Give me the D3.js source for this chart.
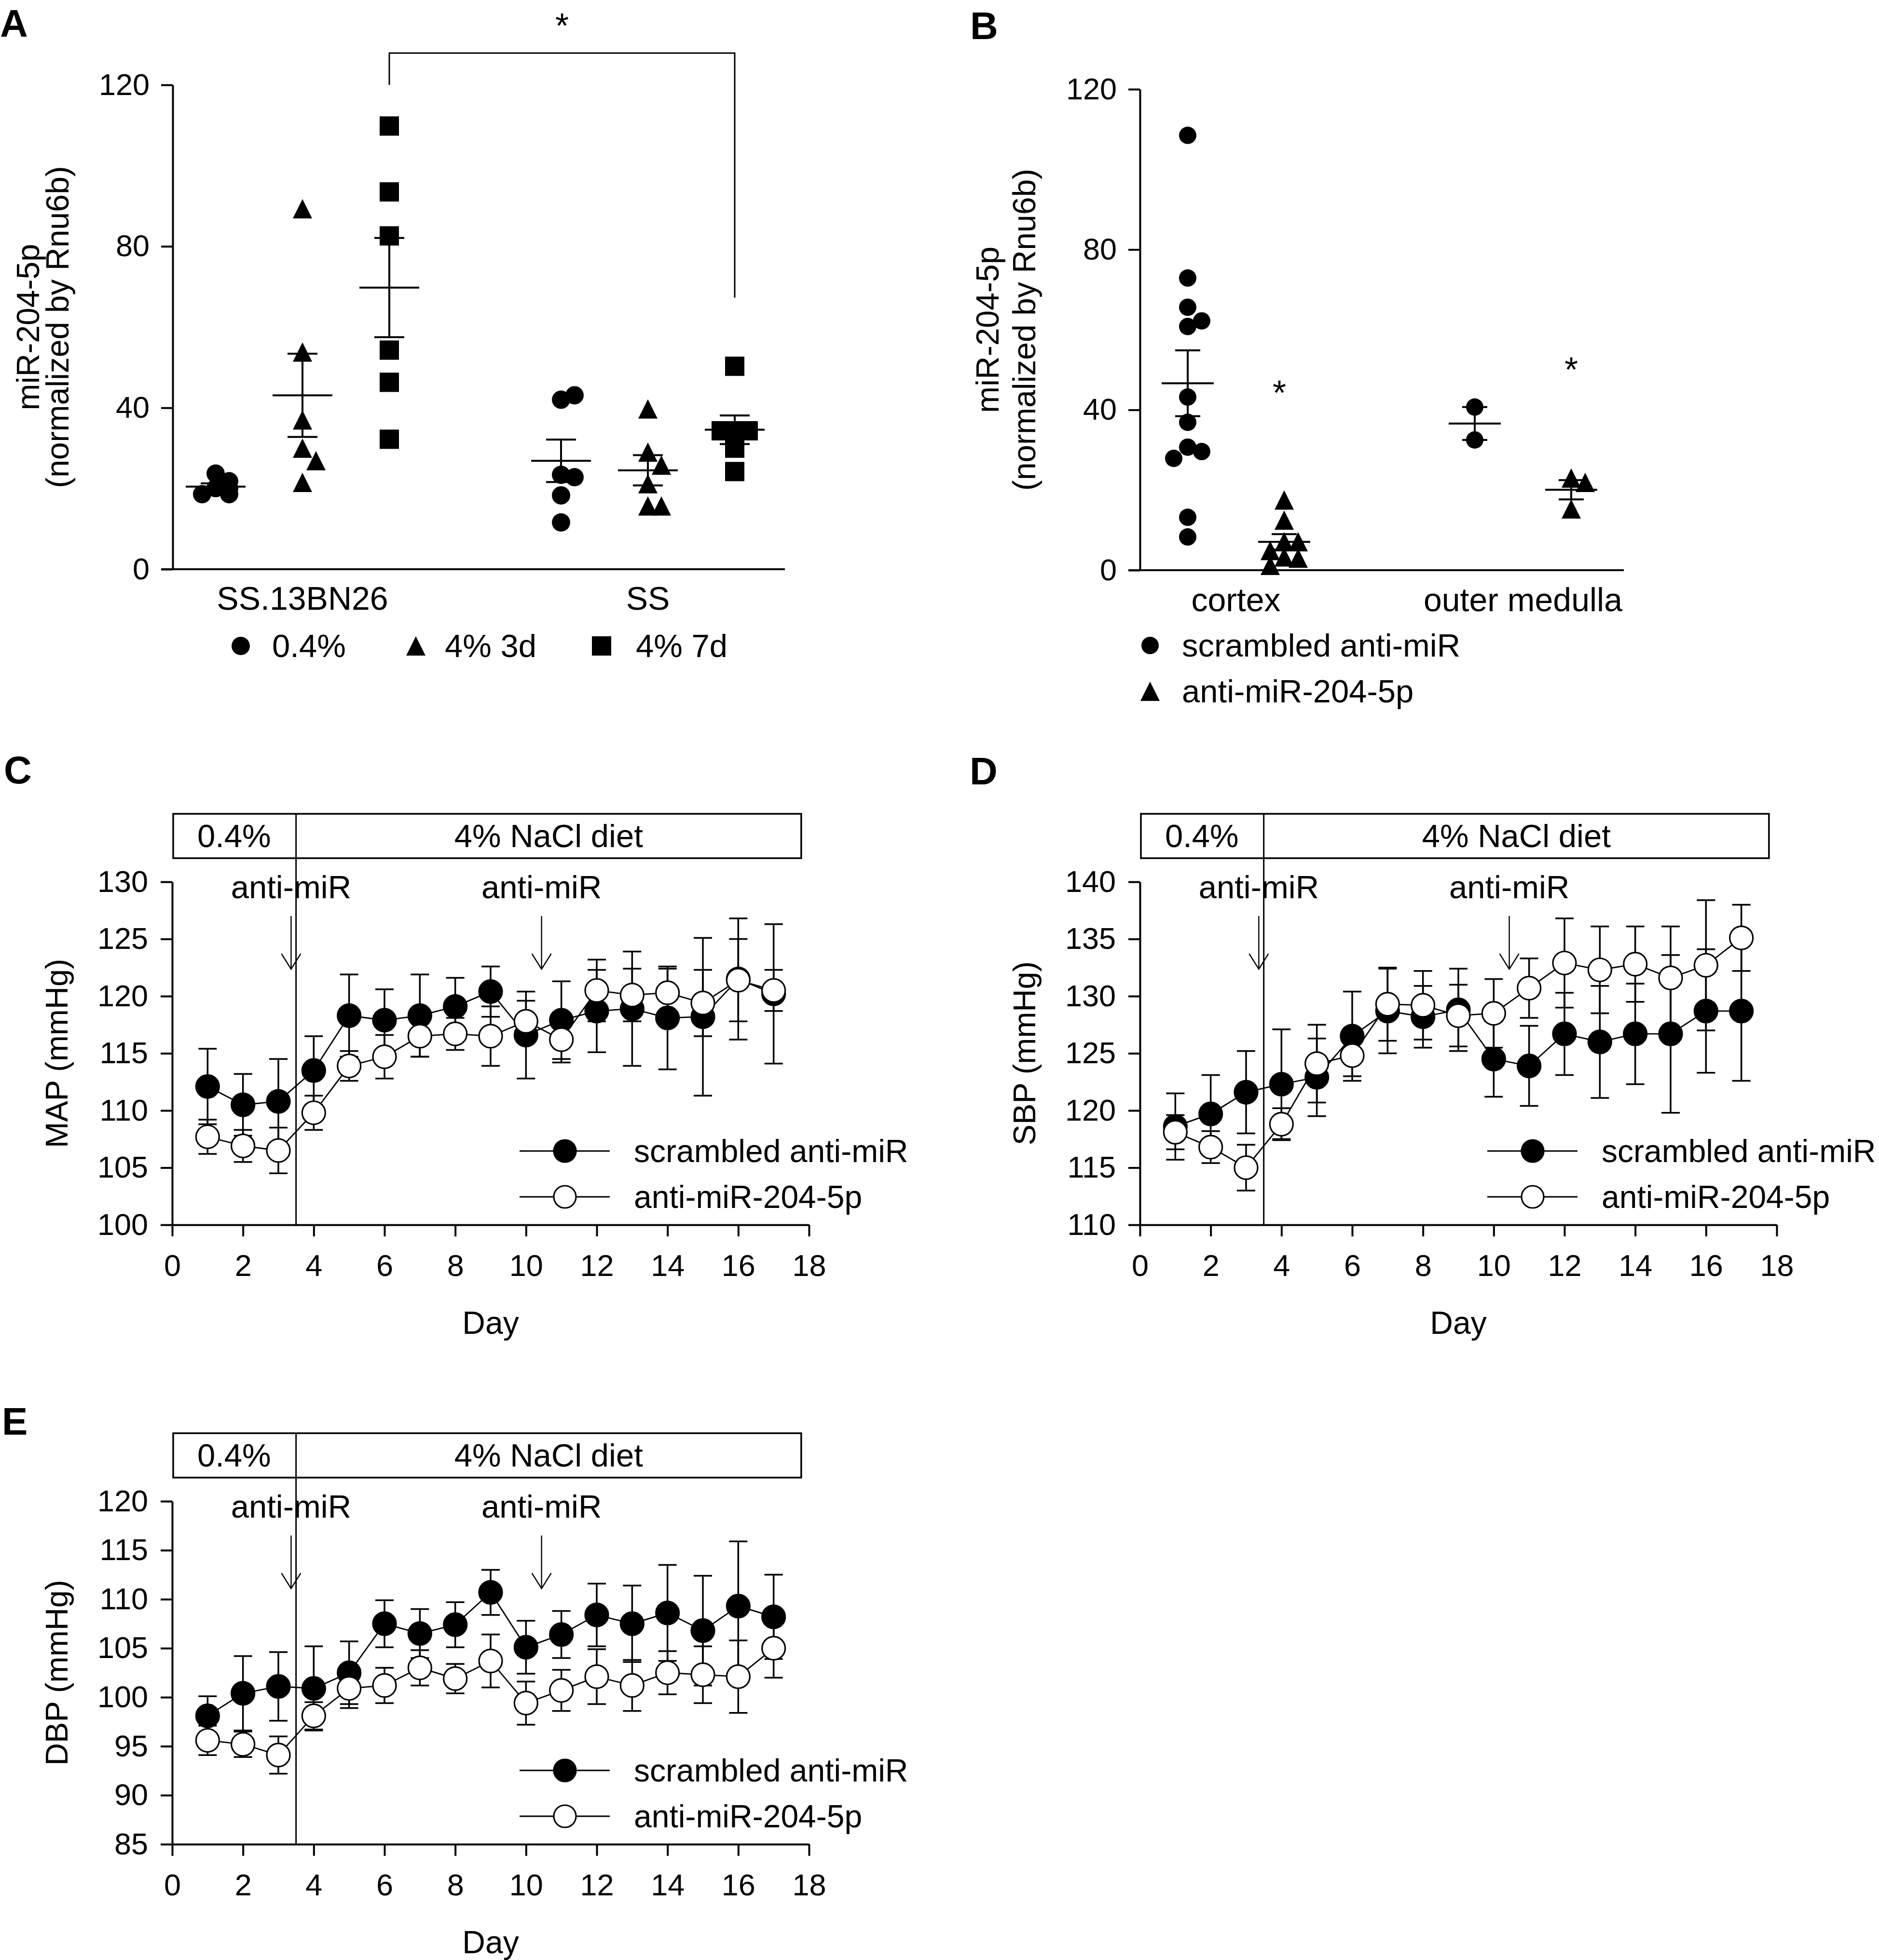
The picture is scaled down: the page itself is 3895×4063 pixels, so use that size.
<!DOCTYPE html>
<html>
<head>
<meta charset="utf-8">
<script src="https://cdn.jsdelivr.net/npm/d3@7"></script>
<style>
  body { margin: 0; background: #fff; }
  text { font-family: "Liberation Sans", Arial, Helvetica, sans-serif; fill: #000; }
</style>
</head>
<body>
<svg id="fig" width="3895" height="4063"></svg>
<script>
const FONT = '"Liberation Sans", Arial, Helvetica, sans-serif';

// ---- panel A : miR-204-5p by strain / diet
const aCategories = ["SS.13BN26", "SS"];
const aGroups = ["0.4%", "4% 3d", "4% 7d"];
const aTicks = [0, 40, 80, 120];
const aSSBN_04 = [20.1, 21.8, 23.7, 18.6, 18.6, 20.0];
const aSSBN_3d = [89.3, 53.8, 37.0, 30.0, 26.9, 21.5];
const aSSBN_7d = [109.8, 93.5, 82.6, 54.3, 46.3, 32.2];
const aSS_04 = [42.0, 43.1, 23.4, 22.8, 18.3, 11.6];
const aSS_3d = [39.7, 29.0, 25.8, 21.2, 15.7, 15.7];
const aSS_7d = [50.3, 34.3, 34.3, 34.3, 30.0, 24.2];

// ---- panel B : cortex / outer medulla
const bCategories = ["cortex", "outer medulla"];
const bGroups = ["scrambled anti-miR", "anti-miR-204-5p"];
const bTicks = [0, 40, 80, 120];
const bCortexScr = [108.5, 72.9, 65.6, 62.2, 60.8, 43.2, 36.9, 30.7, 29.6, 27.9, 13.2, 8.3];
const bCortexAnti = [17.5, 12.5, 7.1, 7.1, 4.9, 3.3, 3.0, 1.2];
const bMedullaScr = [40.7, 32.5];
const bMedullaAnti = [23.0, 21.9, 15.3];

// ---- panels C-E : telemetry by day
const days = [1, 2, 3, 4, 5, 6, 7, 8, 9, 10, 11, 12, 13, 14, 15, 16, 17];
const dayTicks = [0, 2, 4, 6, 8, 10, 12, 14, 16, 18];
const injectionDays = [3.36, 10.44];
const dietPhases = [
  { label: "0.4%", from: 0, to: 3.5 },
  { label: "4% NaCl diet", from: 3.5, to: 17.78 }
];
const seriesNames = ["scrambled anti-miR", "anti-miR-204-5p"];

const mapTicks = [100, 105, 110, 115, 120, 125, 130];
const mapScr = [112.1, 110.5, 110.8, 113.5, 118.3, 117.9, 118.3, 119.1, 120.4, 116.6, 117.9, 118.7, 118.9, 118.1, 118.2, 121.5, 120.2];
const mapScrSem = [3.3, 2.7, 3.7, 3.0, 3.6, 2.7, 3.6, 2.5, 2.2, 3.8, 3.4, 3.6, 5.0, 4.5, 6.9, 5.3, 6.1];
const mapAnti = [107.7, 106.9, 106.5, 109.8, 113.9, 114.7, 116.5, 116.7, 116.5, 117.8, 116.2, 120.5, 120.1, 120.3, 119.4, 121.4, 120.5];
const mapAntiSem = [1.5, 1.4, 2.0, 1.5, 1.3, 1.9, 1.8, 1.4, 2.6, 1.8, 2.0, 2.7, 2.3, 2.1, 2.9, 3.6, 1.8];

const sbpTicks = [110, 115, 120, 125, 130, 135, 140];
const sbpScr = [118.6, 119.7, 121.6, 122.3, 122.9, 126.5, 128.7, 128.2, 128.8, 124.5, 123.9, 126.7, 126.0, 126.7, 126.7, 128.7, 128.7];
const sbpScrSem = [2.9, 3.4, 3.6, 4.8, 3.4, 3.9, 3.7, 2.7, 3.6, 3.3, 3.5, 3.6, 4.9, 4.4, 6.9, 5.4, 6.1];
const sbpAnti = [118.1, 116.8, 115.0, 118.8, 124.1, 124.8, 129.3, 129.2, 128.3, 128.5, 130.7, 132.9, 132.3, 132.8, 131.6, 132.7, 135.1];
const sbpAntiSem = [1.5, 1.4, 2.0, 1.4, 3.4, 1.8, 3.2, 3.0, 2.7, 3.0, 2.6, 3.9, 3.8, 3.3, 4.5, 5.7, 2.9];

const dbpTicks = [85, 90, 95, 100, 105, 110, 115, 120];
const dbpScr = [98.1, 100.4, 101.1, 100.9, 102.5, 107.5, 106.5, 107.4, 110.7, 105.1, 106.4, 108.4, 107.5, 108.6, 106.8, 109.3, 108.2];
const dbpScrSem = [2.0, 3.8, 3.5, 4.3, 3.2, 2.4, 2.5, 2.3, 2.3, 2.7, 2.4, 3.2, 3.9, 4.9, 5.6, 6.6, 4.3];
const dbpAnti = [95.6, 95.2, 94.1, 98.1, 100.9, 101.2, 103.0, 101.9, 103.7, 99.4, 100.7, 102.1, 101.2, 102.5, 102.3, 102.1, 105.0];
const dbpAntiSem = [1.5, 1.3, 1.9, 1.4, 2.0, 1.8, 1.8, 1.5, 2.7, 2.2, 2.1, 2.8, 2.6, 2.2, 2.9, 3.7, 3.0];

const svg = d3.select("#fig");
svg.append("rect").attr("width", 3895).attr("height", 4063).attr("fill", "#fff");

// triangle marker, centred on its box
const symTriangle = {
  draw(ctx, size) {
    const h = Math.sqrt(size) / 2;
    ctx.moveTo(0, -h);
    ctx.lineTo(h, h);
    ctx.lineTo(-h, h);
    ctx.closePath();
  }
};

function styleAxis(g, fs) {
  g.attr("font-size", fs).attr("font-family", FONT);
  g.select(".domain").attr("stroke-width", 4);
  g.selectAll(".tick line").attr("stroke-width", 4);
  g.selectAll(".tick text").attr("fill", "#000");
}

function panelLetter(letter, x, y) {
  svg.append("text").attr("x", x).attr("y", y)
    .attr("font-size", 80).attr("font-weight", "bold").text(letter);
}

// column swarm in three columns, overlapping when they are all taken
function swarm(vals, y, step, minGap) {
  const placed = [];
  return vals.map(v => {
    const py = y(v);
    let best = 0, bestGap = -1;
    for (const k of [0, 1, -1]) {
      const near = placed.filter(p => p.k === k).map(p => Math.abs(p.py - py));
      const gap = near.length ? d3.min(near) : Infinity;
      if (gap >= minGap) { best = k; bestGap = gap; break; }
      if (gap > bestGap) { best = k; bestGap = gap; }
    }
    placed.push({ k: best, py });
    return { v, py, dx: best * step };
  });
}

function scatterPanel(o) {
  const g = svg.append("g");
  const y = d3.scaleLinear().domain([0, 120]).range([o.yBot, o.yTop]);
  const xc = d3.scalePoint().domain(o.cats).range(o.catRange);
  const xo = d3.scalePoint().domain(o.groups).range(o.offRange);

  g.append("g").attr("transform", `translate(${o.axisX},0)`)
    .call(d3.axisLeft(y).tickValues(o.ticks).tickSize(24).tickPadding(24).tickSizeOuter(0))
    .call(styleAxis, 63);
  g.append("line").attr("x1", o.axisX - 24).attr("x2", o.axisEnd)
    .attr("y1", y(0)).attr("y2", y(0)).attr("stroke", "#000").attr("stroke-width", 4);

  g.selectAll("text.cat").data(o.cats).enter().append("text")
    .attr("x", d => xc(d)).attr("y", o.catY)
    .attr("text-anchor", "middle").attr("font-size", 68).text(d => d);

  o.series.forEach(s => {
    const cx = xc(s.cat) + xo(s.grp);
    const gi = o.groups.indexOf(s.grp);
    const sym = d3.symbol().type(o.shapes[gi]).size(o.sizes[gi]);
    const pts = swarm(s.vals, y, o.step, o.minGap);
    g.selectAll(null).data(pts).enter().append("path")
      .attr("d", sym)
      .attr("transform", d => `translate(${cx + d.dx},${d.py})`)
      .attr("fill", "#000");

    const m = d3.mean(s.vals);
    const se = d3.deviation(s.vals) / Math.sqrt(s.vals.length);
    const lg = g.append("g").attr("stroke", "#000").attr("stroke-width", 4);
    lg.append("line").attr("x1", cx - o.meanHalf).attr("x2", cx + o.meanHalf)
      .attr("y1", y(m)).attr("y2", y(m));
    lg.append("line").attr("x1", cx).attr("x2", cx)
      .attr("y1", y(m - se)).attr("y2", y(m + se));
    [m - se, m + se].forEach(v => {
      lg.append("line").attr("x1", cx - o.capHalf).attr("x2", cx + o.capHalf)
        .attr("y1", y(v)).attr("y2", y(v));
    });
  });

  // y title, two lines
  o.yTitle.forEach((t, i) => {
    g.append("text")
      .attr("transform", `translate(${o.yTitleX[i]},${(o.yTop + o.yBot) / 2}) rotate(-90)`)
      .attr("text-anchor", "middle").attr("dy", "0.35em")
      .attr("font-size", 66).text(t);
  });

  // legend
  o.groups.forEach((grp, i) => {
    const sym = d3.symbol().type(o.shapes[i]).size(o.sizes[i]);
    const p = o.legend[i];
    g.append("path").attr("d", sym).attr("transform", `translate(${p.sx},${p.y})`).attr("fill", "#000");
    g.append("text").attr("x", p.tx).attr("y", p.y).attr("dy", "0.35em")
      .attr("font-size", 67).text(grp);
  });

  return { g, y, gx: (cat, grp) => xc(cat) + xo(grp) };
}

function star(g, x, yc) {
  g.append("text").attr("x", x).attr("y", yc + 40)
    .attr("text-anchor", "middle").attr("font-size", 72).text("*");
}

// ---------------- Panel A
panelLetter("A", 0, 76);
const pA = scatterPanel({
  cats: aCategories, groups: aGroups, ticks: aTicks,
  yTop: 176, yBot: 1180, axisX: 358, axisEnd: 1627,
  catRange: [627, 1343], offRange: [-180, 180], catY: 1264,
  shapes: [d3.symbolCircle, symTriangle, d3.symbolSquare],
  sizes: [Math.PI * 19 * 19, 40 * 40, 40 * 40],
  step: 28, minGap: 30, meanHalf: 62, capHalf: 31,
  series: [
    { cat: "SS.13BN26", grp: "0.4%", vals: aSSBN_04 },
    { cat: "SS.13BN26", grp: "4% 3d", vals: aSSBN_3d },
    { cat: "SS.13BN26", grp: "4% 7d", vals: aSSBN_7d },
    { cat: "SS", grp: "0.4%", vals: aSS_04 },
    { cat: "SS", grp: "4% 3d", vals: aSS_3d },
    { cat: "SS", grp: "4% 7d", vals: aSS_7d }
  ],
  yTitle: ["miR-204-5p", "(normalized by Rnu6b)"], yTitleX: [58, 119],
  legend: [{ sx: 499, tx: 564, y: 1339 }, { sx: 862, tx: 922, y: 1339 }, { sx: 1247, tx: 1318, y: 1339 }]
});
{
  const xl = pA.gx("SS.13BN26", "4% 7d"), xr = pA.gx("SS", "4% 7d");
  pA.g.append("path")
    .attr("d", `M${xl},${pA.y(120)}V${pA.y(127.9)}H${xr}V${pA.y(67.3)}`)
    .attr("fill", "none").attr("stroke", "#000").attr("stroke-width", 3);
  star(pA.g, (xl + xr) / 2, pA.y(136.5));
}

// ---------------- Panel B
panelLetter("B", 2011, 81);
const pB = scatterPanel({
  cats: bCategories, groups: bGroups, ticks: bTicks,
  yTop: 185, yBot: 1182, axisX: 2363, axisEnd: 3366,
  catRange: [2562, 3157], offRange: [-100, 100], catY: 1267,
  shapes: [d3.symbolCircle, symTriangle],
  sizes: [Math.PI * 18 * 18, 40 * 40],
  step: 29, minGap: 30, meanHalf: 54, capHalf: 26,
  series: [
    { cat: "cortex", grp: "scrambled anti-miR", vals: bCortexScr },
    { cat: "cortex", grp: "anti-miR-204-5p", vals: bCortexAnti },
    { cat: "outer medulla", grp: "scrambled anti-miR", vals: bMedullaScr },
    { cat: "outer medulla", grp: "anti-miR-204-5p", vals: bMedullaAnti }
  ],
  yTitle: ["miR-204-5p", "(normalized by Rnu6b)"], yTitleX: [2047, 2123],
  legend: [{ sx: 2384, tx: 2450, y: 1338 }, { sx: 2384, tx: 2450, y: 1433 }]
});
star(pB.g, pB.gx("cortex", "anti-miR-204-5p") - 10, pB.y(46.1));
star(pB.g, pB.gx("outer medulla", "anti-miR-204-5p"), pB.y(51.9));

// ---------------- Panels C-E
function timePanel(o) {
  const g = svg.append("g");
  const x = d3.scaleLinear().domain([0, 18]).range([o.x0, o.x0 + 1320]);
  const y = d3.scaleLinear().domain(d3.extent(o.ticks)).range([o.y1, o.y0]);

  g.append("g").attr("transform", `translate(${o.x0},0)`)
    .call(d3.axisLeft(y).tickValues(o.ticks).tickSize(24).tickPadding(26).tickSizeOuter(0))
    .call(styleAxis, 63);
  g.append("g").attr("transform", `translate(0,${o.y1})`)
    .call(d3.axisBottom(x).tickValues(dayTicks).tickSize(24).tickPadding(37).tickSizeOuter(0))
    .call(styleAxis, 63);

  // diet bar
  const boxTop = o.y0 - 141, boxH = 92;
  g.append("rect").attr("x", x(0) + 2).attr("y", boxTop)
    .attr("width", x(17.78) - x(0) - 2).attr("height", boxH)
    .attr("fill", "none").attr("stroke", "#000").attr("stroke-width", 3.5);
  g.append("line").attr("x1", x(3.5)).attr("x2", x(3.5))
    .attr("y1", boxTop).attr("y2", o.y1).attr("stroke", "#000").attr("stroke-width", 3);
  dietPhases.forEach(p => {
    g.append("text").attr("x", x((p.from + p.to) / 2)).attr("y", boxTop + boxH / 2)
      .attr("dy", "0.35em").attr("text-anchor", "middle").attr("font-size", 67).text(p.label);
  });

  // injections
  injectionDays.forEach(dd => {
    const ax = x(dd);
    g.append("text").attr("x", ax).attr("y", o.y0 + 11).attr("dy", "0.35em")
      .attr("text-anchor", "middle").attr("font-size", 67).text("anti-miR");
    g.append("line").attr("x1", ax).attr("x2", ax).attr("y1", o.y0 + 71).attr("y2", o.y0 + 181)
      .attr("stroke", "#000").attr("stroke-width", 2.4);
    g.append("path").attr("d", `M${ax - 20},${o.y0 + 149}L${ax},${o.y0 + 181}L${ax + 20},${o.y0 + 149}`)
      .attr("fill", "none").attr("stroke", "#000").attr("stroke-width", 2.4);
  });

  const series = [
    { vals: o.scr, sem: o.scrSem, fill: "#000" },
    { vals: o.anti, sem: o.antiSem, fill: "#fff" }
  ].map(s => ({ ...s, pts: days.map((d, i) => ({ day: d, v: s.vals[i], se: s.sem[i] })) }));

  // error bars
  series.forEach(s => {
    const eg = g.append("g").attr("stroke", "#000").attr("stroke-width", 3.5);
    s.pts.forEach(p => {
      const cx = x(p.day);
      eg.append("line").attr("x1", cx).attr("x2", cx).attr("y1", y(p.v - p.se)).attr("y2", y(p.v + p.se));
      [p.v - p.se, p.v + p.se].forEach(v => {
        eg.append("line").attr("x1", cx - 19).attr("x2", cx + 19).attr("y1", y(v)).attr("y2", y(v));
      });
    });
  });
  const line = d3.line().x(d => x(d.day)).y(d => y(d.v));
  series.forEach(s => {
    g.append("path").attr("d", line(s.pts)).attr("fill", "none")
      .attr("stroke", "#000").attr("stroke-width", 2.8);
  });
  series.forEach(s => {
    g.selectAll(null).data(s.pts).enter().append("circle")
      .attr("cx", d => x(d.day)).attr("cy", d => y(d.v)).attr("r", 24)
      .attr("fill", s.fill).attr("stroke", "#000").attr("stroke-width", 3.2);
  });

  // legend
  seriesNames.forEach((name, i) => {
    const ly = o.y1 - (i === 0 ? 153 : 58);
    g.append("line").attr("x1", o.x0 + 720).attr("x2", o.x0 + 907).attr("y1", ly).attr("y2", ly)
      .attr("stroke", "#000").attr("stroke-width", 3);
    g.append("circle").attr("cx", o.x0 + 814).attr("cy", ly).attr("r", 23)
      .attr("fill", series[i].fill).attr("stroke", "#000").attr("stroke-width", 3.2);
    g.append("text").attr("x", o.x0 + 957).attr("y", ly).attr("dy", "0.35em")
      .attr("font-size", 66).text(name);
  });

  g.append("text").attr("x", x(9)).attr("y", o.y1 + 203).attr("dy", "0.35em")
    .attr("text-anchor", "middle").attr("font-size", 66).text("Day");
  g.append("text")
    .attr("transform", `translate(${o.x0 - 240},${(o.y0 + o.y1) / 2}) rotate(-90)`)
    .attr("text-anchor", "middle").attr("dy", "0.35em").attr("font-size", 65).text(o.yTitle);
}

panelLetter("C", 8, 1624);
timePanel({ x0: 357, y0: 1828, y1: 2539, ticks: mapTicks, yTitle: "MAP (mmHg)",
  scr: mapScr, scrSem: mapScrSem, anti: mapAnti, antiSem: mapAntiSem });

panelLetter("D", 2010, 1626);
timePanel({ x0: 2363, y0: 1828, y1: 2539, ticks: sbpTicks, yTitle: "SBP (mmHg)",
  scr: sbpScr, scrSem: sbpScrSem, anti: sbpAnti, antiSem: sbpAntiSem });

panelLetter("E", 4, 2974);
timePanel({ x0: 357, y0: 3112, y1: 3823, ticks: dbpTicks, yTitle: "DBP (mmHg)",
  scr: dbpScr, scrSem: dbpScrSem, anti: dbpAnti, antiSem: dbpAntiSem });
</script>
</body>
</html>
